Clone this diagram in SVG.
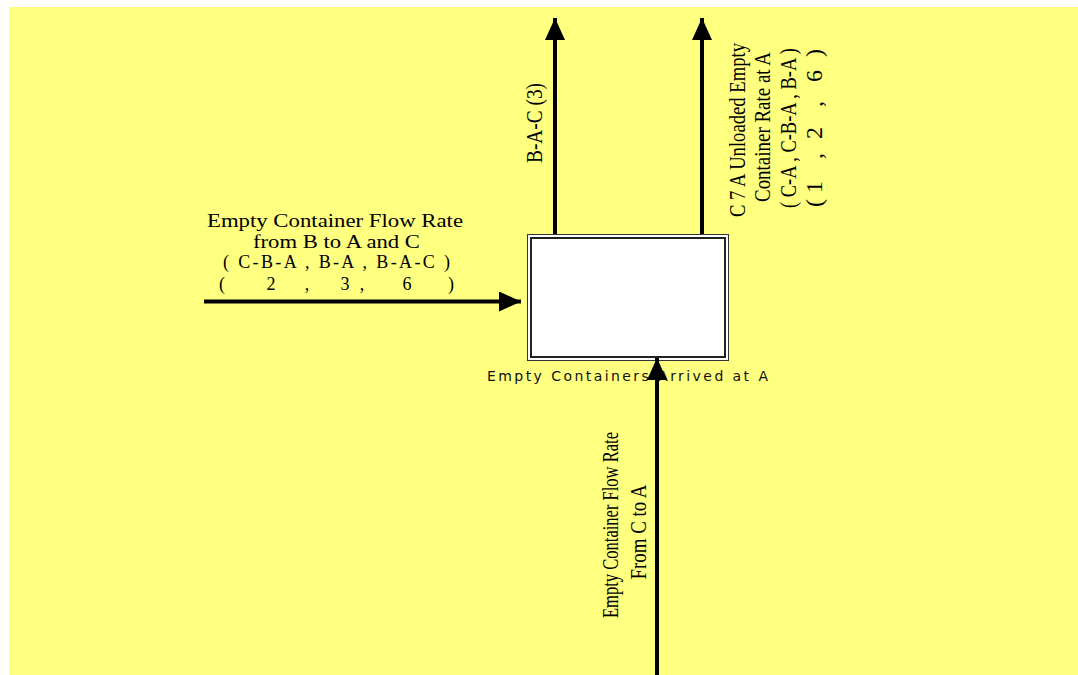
<svg xmlns="http://www.w3.org/2000/svg" width="1078" height="675" viewBox="0 0 1078 675">
<style>
.bg{fill:#ffff80}
.ser{font-family:"Liberation Serif","Times New Roman",serif;fill:#000}
.h{font-size:18px}
.v{font-size:24px}
.lbl{font-family:"DejaVu Sans","Liberation Sans",sans-serif;font-size:14px;fill:#111}
.shaft{stroke:#000;stroke-width:4;fill:none}
</style>
<defs>
<marker id="ah" viewBox="0 0 22 20" refX="22" refY="10" markerWidth="22" markerHeight="20" markerUnits="userSpaceOnUse" orient="auto">
<path d="M0,0 L22,10 L0,20 Z" fill="#000"/>
</marker>
</defs>
<rect x="0" y="0" width="1078" height="675" fill="#ffffff"/>
<rect class="bg" x="9" y="7" width="1069" height="668"/>

<g id="node-A">
<rect x="527.5" y="234.5" width="201" height="126" fill="#ffffff" stroke="#333333" stroke-width="1"/>
<rect x="531" y="238" width="194" height="119" fill="#ffffff" stroke="#222222" stroke-width="2"/>
<text class="lbl" x="487" y="380.5" textLength="281" lengthAdjust="spacing">Empty Containers Arrived at A</text>
</g>

<g id="connectors">
<path class="shaft" d="M204,301.5 L521,301.5" marker-end="url(#ah)"/>
<path class="shaft" d="M555,234 L555,18" marker-end="url(#ah)"/>
<path class="shaft" d="M702,234 L702,18" marker-end="url(#ah)"/>
<path class="shaft" d="M657,675 L657,358" marker-end="url(#ah)"/>
</g>

<g id="label-left" class="ser h" text-anchor="middle">
<text x="335" y="227" textLength="256" lengthAdjust="spacingAndGlyphs">Empty Container Flow Rate</text>
<text x="336.5" y="248" textLength="167" lengthAdjust="spacingAndGlyphs">from B to A and C</text>
<text x="336.5" y="268" textLength="227" lengthAdjust="spacing">( C-B-A , B-A , B-A-C )</text>
<text y="290"><tspan x="222">(</tspan><tspan x="271">2</tspan><tspan x="307">,</tspan><tspan x="345">3</tspan><tspan x="362">,</tspan><tspan x="407">6</tspan><tspan x="451">)</tspan></text>
</g>

<g id="label-top-left" class="ser v" text-anchor="middle" transform="rotate(-90)">
<text x="-123" y="542" textLength="80" lengthAdjust="spacingAndGlyphs">B-A-C (3)</text>
</g>

<g id="label-top-right" class="ser v" text-anchor="middle" transform="rotate(-90)">
<text x="-130" y="745" textLength="174" lengthAdjust="spacingAndGlyphs">C 7 A Unloaded Empty</text>
<text x="-127" y="770" textLength="150" lengthAdjust="spacingAndGlyphs">Container Rate  at A</text>
<text x="-128" y="796" textLength="160" lengthAdjust="spacingAndGlyphs">( C-A , C-B-A , B-A )</text>
<text y="822"><tspan x="-203">(</tspan><tspan x="-187">1</tspan><tspan x="-156">,</tspan><tspan x="-133">2</tspan><tspan x="-104">,</tspan><tspan x="-76">6</tspan><tspan x="-53">)</tspan></text>
</g>

<g id="label-bottom" class="ser v" text-anchor="middle" transform="rotate(-90)">
<text x="-525" y="618" textLength="186" lengthAdjust="spacingAndGlyphs">Empty Container Flow Rate</text>
<text x="-532" y="646" textLength="95" lengthAdjust="spacingAndGlyphs">From C to A</text>
</g>
</svg>
